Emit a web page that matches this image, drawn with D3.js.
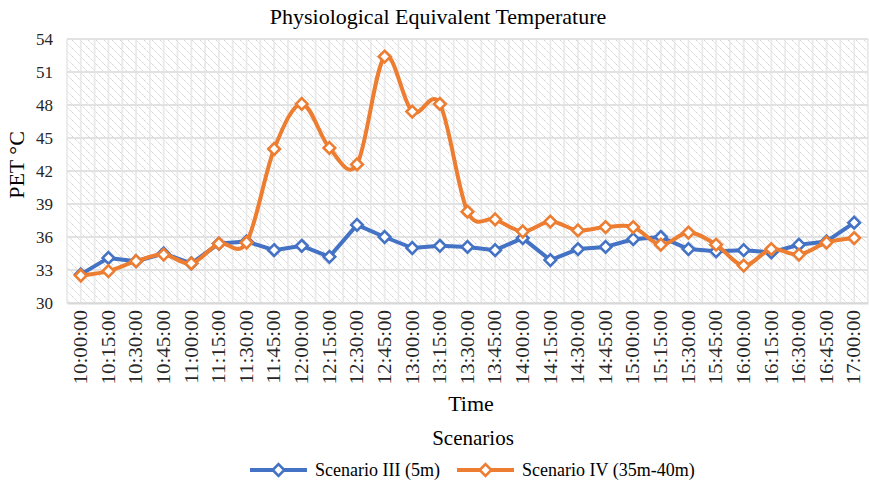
<!DOCTYPE html>
<html>
<head>
<meta charset="utf-8">
<script src="https://cdn.jsdelivr.net/npm/d3@7"></script>
<style>
  html, body { margin: 0; padding: 0; background: #fff; }
  svg { display: block; font-family: "Liberation Serif", "Times New Roman", serif; }
</style>
</head>
<body>
<svg id="chart" width="869" height="487"></svg>
<script>
// Time of day, every 15 minutes
const times = [
  "10:00:00", "10:15:00", "10:30:00", "10:45:00", "11:00:00", "11:15:00", "11:30:00",
  "11:45:00", "12:00:00", "12:15:00", "12:30:00", "12:45:00", "13:00:00", "13:15:00",
  "13:30:00", "13:45:00", "14:00:00", "14:15:00", "14:30:00", "14:45:00", "15:00:00",
  "15:15:00", "15:30:00", "15:45:00", "16:00:00", "16:15:00", "16:30:00", "16:45:00",
  "17:00:00"
];

// PET (°C) per scenario
const scenarioIII = [
  32.6, 34.1, 33.8, 34.5, 33.6, 35.4, 35.6, 34.8, 35.2, 34.2, 37.1, 36.0, 35.0, 35.2,
  35.1, 34.8, 35.9, 33.9, 34.9, 35.1, 35.8, 36.0, 34.9, 34.7, 34.8, 34.6, 35.3, 35.6,
  37.3
];
const scenarioIV = [
  32.5, 32.9, 33.8, 34.4, 33.6, 35.4, 35.5, 44.0, 48.1, 44.1, 42.6, 52.4, 47.4, 48.1,
  38.3, 37.6, 36.5, 37.4, 36.6, 36.9, 36.9, 35.3, 36.4, 35.3, 33.4, 34.9, 34.4, 35.5,
  35.9
];

const seriesNames = ["Scenario III (5m)", "Scenario IV (35m-40m)"];
const seriesColors = ["#4472C4", "#ED7D31"];
const yTicks = [30, 33, 36, 39, 42, 45, 48, 51, 54];

const svg = d3.select("#chart");
const plot = { left: 67, right: 868, top: 39, bottom: 303 };

const x = d3.scaleBand().domain(times).range([plot.left, plot.right]).paddingInner(0).paddingOuter(0);
const y = d3.scaleLinear().domain([30, 54]).range([plot.bottom, plot.top]);
const cx = d => x(d) + x.bandwidth() / 2;

// Hatched plot background
const defs = svg.append("defs");
const pat = defs.append("pattern")
  .attr("id", "hatch").attr("patternUnits", "userSpaceOnUse")
  .attr("width", 8).attr("height", 8);
pat.append("path")
  .attr("d", "M0,0 L8,8 M-2,6 L2,10 M6,-2 L10,2")
  .attr("stroke", "#bdbdbd").attr("stroke-width", 0.8)
  .attr("stroke-dasharray", "1.2,0.9");

svg.append("rect")
  .attr("x", plot.left).attr("y", plot.top)
  .attr("width", plot.right - plot.left).attr("height", plot.bottom - plot.top)
  .attr("fill", "url(#hatch)");

// Vertical pattern lines at band edges and centres
const vLines = [];
times.forEach(t => { vLines.push(x(t)); vLines.push(cx(t)); });
vLines.push(plot.right);
svg.append("g").selectAll("line").data(vLines).join("line")
  .attr("x1", d => d).attr("x2", d => d)
  .attr("y1", plot.top).attr("y2", plot.bottom)
  .attr("stroke", "#eaeaea").attr("stroke-width", 1.8);

// Horizontal gridlines
svg.append("g").selectAll("line").data(yTicks).join("line")
  .attr("x1", plot.left).attr("x2", plot.right)
  .attr("y1", d => y(d)).attr("y2", d => y(d))
  .attr("stroke", "#e2e2e2").attr("stroke-width", 2);

// Y axis labels
const yAxis = d3.axisLeft(y).tickValues(yTicks).tickSize(0).tickPadding(10);
const gy = svg.append("g").attr("transform", `translate(${plot.left - 4},0)`).call(yAxis);
gy.select(".domain").remove();
gy.selectAll("text").attr("font-size", 17).attr("fill", "#262626")
  .attr("font-family", "Liberation Serif");

// X axis labels, rotated; glyphs narrowed across the text direction
const xAxis = d3.axisBottom(x).tickSize(0).tickPadding(0);
const gx = svg.append("g").attr("transform", `translate(0,${plot.bottom})`).call(xAxis);
gx.select(".domain").attr("stroke", "#d9d9d9").attr("stroke-width", 2);
gx.selectAll("text")
  .attr("font-size", 21).attr("fill", "#262626").attr("font-family", "Liberation Serif")
  .attr("text-anchor", "end")
  .attr("transform", "rotate(-90) scale(1,0.85)")
  .attr("x", -7).attr("y", 0).attr("dy", "0.35em");

// Series lines
const straight = d3.line().x((d, i) => cx(times[i])).y(d => y(d));
const smooth = d3.line().x((d, i) => cx(times[i])).y(d => y(d)).curve(d3.curveCardinal.tension(0));
const series = [
  { values: scenarioIII, gen: straight },
  { values: scenarioIV, gen: smooth }
];

const diamond = s => `M0,${-s} L${s},0 L0,${s} L${-s},0 Z`;

series.forEach((s, k) => {
  svg.append("path").datum(s.values)
    .attr("d", s.gen)
    .attr("fill", "none").attr("stroke", seriesColors[k])
    .attr("stroke-width", 4).attr("stroke-linejoin", "round").attr("stroke-linecap", "round");
  svg.append("g").selectAll("path").data(s.values).join("path")
    .attr("transform", (d, i) => `translate(${cx(times[i])},${y(d)})`)
    .attr("d", diamond(5.8))
    .attr("fill", "#fff").attr("stroke", seriesColors[k]).attr("stroke-width", 2.6)
    .attr("stroke-linejoin", "miter");
});

// Titles
svg.append("text").attr("x", 438).attr("y", 24).attr("text-anchor", "middle")
  .attr("font-size", 22).attr("fill", "#000").text("Physiological Equivalent Temperature");
svg.append("text").attr("transform", "translate(24,165) rotate(-90)").attr("text-anchor", "middle")
  .attr("font-size", 22).attr("fill", "#000").text("PET °C");
svg.append("text").attr("x", 471).attr("y", 411).attr("text-anchor", "middle")
  .attr("font-size", 22).attr("fill", "#000").text("Time");
svg.append("text").attr("x", 473).attr("y", 445).attr("text-anchor", "middle")
  .attr("font-size", 21).attr("fill", "#000").text("Scenarios");

// Legend
const legendItems = [
  { x: 250, textX: 315 },
  { x: 457, textX: 522 }
];
legendItems.forEach((item, k) => {
  const g = svg.append("g");
  g.append("line").attr("x1", item.x).attr("x2", item.x + 57)
    .attr("y1", 470).attr("y2", 470)
    .attr("stroke", seriesColors[k]).attr("stroke-width", 4);
  g.append("path").attr("transform", `translate(${item.x + 28.5},470)`)
    .attr("d", diamond(5.8)).attr("fill", "#fff")
    .attr("stroke", seriesColors[k]).attr("stroke-width", 2.6);
  g.append("text").attr("x", item.textX).attr("y", 476)
    .attr("font-size", 18).attr("fill", "#000").text(seriesNames[k]);
});
</script>
</body>
</html>
